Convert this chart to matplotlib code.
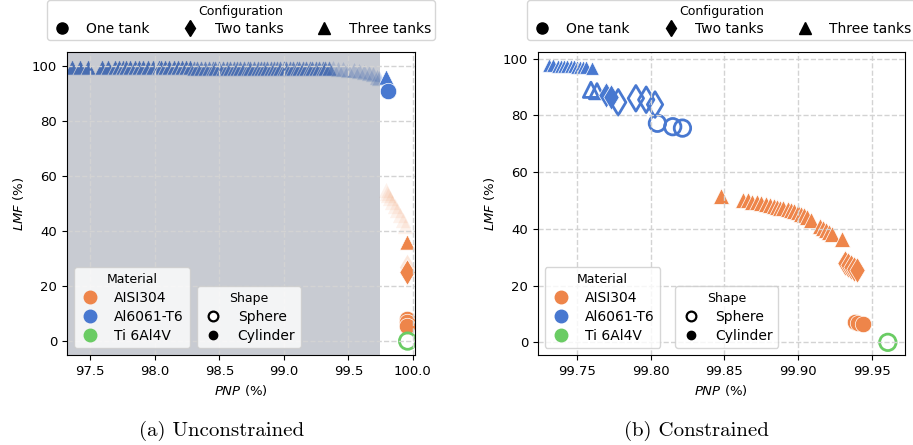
import numpy as np
import matplotlib
matplotlib.use('Agg')
import matplotlib.pyplot as plt
from matplotlib.lines import Line2D

# seaborn "muted" colours
C_STEEL = '#ee854a'   # AISI304
C_AL = '#4878d0'      # Al6061-T6
C_TI = '#6acc64'      # Ti 6Al4V

# ---------------- (a) unconstrained ----------------
# Al6061-T6, cylinder, three tanks (dense front along the top)
a_al_tri_x = [97.36, 97.42, 97.48, 97.59, 97.64, 97.69, 97.72, 97.75, 97.78, 97.81,
              97.85, 97.88, 97.91, 97.95, 97.99, 98.03, 98.05, 98.08, 98.11, 98.15,
              98.18, 98.21, 98.24, 98.27]
a_al_tri_y = [99.5] * len(a_al_tri_x)
a_al_tri2_x = [98.30, 98.33, 98.36, 98.39, 98.42, 98.45, 98.47, 98.50, 98.53, 98.56,
               98.58, 98.61, 98.64, 98.66, 98.69, 98.72, 98.74, 98.77, 98.80, 98.82,
               98.85, 98.87, 98.90, 98.92, 98.95, 98.97, 99.00, 99.02, 99.05, 99.07,
               99.10, 99.12, 99.15, 99.17, 99.20, 99.22, 99.25, 99.27, 99.30, 99.32, 99.35]
a_al_tri2_y = [99.4] * len(a_al_tri2_x)
a_al_fade_x = [99.38, 99.42, 99.46, 99.50, 99.54, 99.58, 99.62, 99.66, 99.69, 99.72, 99.74]
a_al_fade_y = [99.2, 99.0, 98.9, 98.7, 98.5, 98.3, 98.0, 97.6, 97.0, 96.2, 95.5]
a_al_other_x = [99.79]
a_al_other_y = [96.0]
a_al_cyl1_x = [99.806]
a_al_cyl1_y = [91.0]
# AISI304 faded front
a_st_fade_x = [99.79, 99.80, 99.81, 99.82, 99.84, 99.86, 99.88, 99.90, 99.92, 99.94]
a_st_fade_y = [55.0, 54.0, 53.0, 52.0, 50.5, 49.0, 47.5, 46.0, 44.0, 42.0]
a_st_tri_x = [99.955]
a_st_tri_y = [36.0]
a_st_dia_x = [99.953, 99.955]
a_st_dia_y = [27.0, 25.0]
a_st_cyl_x = [99.955, 99.956, 99.957]
a_st_cyl_y = [8.0, 7.0, 5.5]
a_ti_sph_x = [99.959]
a_ti_sph_y = [0.0]

# ---------------- (b) constrained ----------------
b_al_tri_x = [99.731, 99.734, 99.737, 99.739, 99.741, 99.743, 99.746, 99.748,
              99.750, 99.752, 99.754, 99.756, 99.760]
b_al_tri_y = [97.6, 97.6, 97.5, 97.5, 97.4, 97.4, 97.3, 97.3, 97.2, 97.1, 97.0, 97.0, 96.8]
b_al_tri_sph_x = [99.7595, 99.7636]
b_al_tri_sph_y = [89.0, 88.5]
b_al_dia_x = [99.770, 99.773]
b_al_dia_y = [87.3, 86.5]
b_al_dia_sph_x = [99.778, 99.790, 99.797, 99.803]
b_al_dia_sph_y = [84.6, 86.0, 85.5, 83.8]
b_al_one_sph_x = [99.8046, 99.815, 99.8216]
b_al_one_sph_y = [77.2, 76.0, 75.5]
b_st_tri_x = [99.848, 99.863, 99.866, 99.869, 99.872, 99.875, 99.878, 99.881, 99.884,
              99.886, 99.888, 99.890, 99.893, 99.895, 99.897, 99.900, 99.902, 99.904,
              99.906, 99.909, 99.915, 99.917, 99.919, 99.921, 99.923, 99.930]
b_st_tri_y = [51.7, 50.3, 50.0, 49.6, 49.3, 49.0, 48.6, 48.3, 48.0, 47.8, 47.5, 47.3,
              46.9, 46.6, 46.3, 45.8, 45.3, 44.8, 44.2, 43.2, 41.0, 40.3, 39.6, 39.0,
              38.3, 36.5]
b_st_dia_x = [99.932, 99.934, 99.936, 99.938, 99.940]
b_st_dia_y = [28.0, 27.2, 26.5, 26.0, 25.4]
b_st_cyl_x = [99.939, 99.941, 99.944]
b_st_cyl_y = [7.0, 6.8, 6.5]
b_ti_sph_x = [99.961]
b_ti_sph_y = [0.0]

plt.rcParams['font.size'] = 10
plt.rcParams['xtick.labelsize'] = 9.5
plt.rcParams['ytick.labelsize'] = 9.5

fig = plt.figure(figsize=(9.13, 4.45), dpi=100)
ax1 = fig.add_axes([0.0734, 0.202, 0.381, 0.681])
ax2 = fig.add_axes([0.589, 0.202, 0.402, 0.681])

S_TRI = 120
S_DIA = 170
S_CIRC = 140


def filled(ax, x, y, color, marker, s=S_TRI, alpha=1.0):
    ax.scatter(x, y, s=s, c=color, marker=marker, edgecolors='white',
               linewidths=0.5, alpha=alpha, zorder=1)


def hollow(ax, x, y, color, marker, s=S_CIRC, alpha=1.0):
    ax.scatter(x, y, s=s, facecolors='none', edgecolors=color, marker=marker,
               linewidths=2.0, alpha=alpha, zorder=1)


# (a)
filled(ax1, a_al_tri_x, a_al_tri_y, C_AL, '^')
filled(ax1, a_al_tri2_x, a_al_tri2_y, C_AL, '^', alpha=0.8)
filled(ax1, a_al_fade_x, a_al_fade_y, C_AL, '^', alpha=0.25)
filled(ax1, a_al_other_x, a_al_other_y, C_AL, '^')
filled(ax1, a_al_cyl1_x, a_al_cyl1_y, C_AL, 'o', s=S_CIRC)
filled(ax1, a_st_fade_x, a_st_fade_y, C_STEEL, '^', alpha=0.1)
filled(ax1, a_st_tri_x, a_st_tri_y, C_STEEL, '^')
filled(ax1, a_st_dia_x[:1], a_st_dia_y[:1], C_STEEL, 'd', s=S_DIA, alpha=0.2)
filled(ax1, a_st_dia_x[1:], a_st_dia_y[1:], C_STEEL, 'd', s=S_DIA)
filled(ax1, a_st_cyl_x, a_st_cyl_y, C_STEEL, 'o', s=S_CIRC)
hollow(ax1, a_ti_sph_x, a_ti_sph_y, C_TI, 'o')
ax1.axvspan(97.0, 99.745, color='#4b556b', alpha=0.3, lw=0, zorder=1.2)
ax1.set_xlim(97.32, 100.015)
ax1.set_ylim(-5.1, 105.1)
ax1.set_xticks([97.5, 98.0, 98.5, 99.0, 99.5, 100.0])
ax1.set_yticks([0, 20, 40, 60, 80, 100])

# (b)
filled(ax2, b_al_tri_x, b_al_tri_y, C_AL, '^', s=95)
hollow(ax2, b_al_tri_sph_x, b_al_tri_sph_y, C_AL, '^', s=120)
filled(ax2, b_al_dia_x, b_al_dia_y, C_AL, 'd', s=S_DIA)
hollow(ax2, b_al_dia_sph_x, b_al_dia_sph_y, C_AL, 'd', s=S_DIA)
hollow(ax2, b_al_one_sph_x, b_al_one_sph_y, C_AL, 'o')
filled(ax2, b_st_tri_x, b_st_tri_y, C_STEEL, '^', s=130)
filled(ax2, b_st_dia_x, b_st_dia_y, C_STEEL, 'd', s=S_DIA)
filled(ax2, b_st_cyl_x, b_st_cyl_y, C_STEEL, 'o', s=S_CIRC)
hollow(ax2, b_ti_sph_x, b_ti_sph_y, C_TI, 'o')
ax2.set_xlim(99.7234, 99.9725)
ax2.set_ylim(-4.5, 102.3)
ax2.set_xticks([99.75, 99.80, 99.85, 99.90, 99.95])
ax2.set_xticklabels(['99.75', '99.80', '99.85', '99.90', '99.95'])
ax2.set_yticks([0, 20, 40, 60, 80, 100])

conf_handles = [Line2D([], [], ls='', marker=m, color='black', markersize=ms)
                for m, ms in (('o', 8), ('d', 8), ('^', 8))]
conf_labels = ['One tank', 'Two tanks', 'Three tanks']
mat_handles = [Line2D([], [], ls='', marker='o', color=c, markersize=9)
               for c in (C_STEEL, C_AL, C_TI)]
mat_labels = ['AISI304', 'Al6061-T6', 'Ti 6Al4V']
shape_handles = [Line2D([], [], ls='', marker='o', markerfacecolor='white',
                        markeredgecolor='black', markeredgewidth=1.6, markersize=7),
                 Line2D([], [], ls='', marker='o', color='black', markersize=6)]
shape_labels = ['Sphere', 'Cylinder']

for ax in (ax1, ax2):
    ax.grid(True, ls='--', color='#d3d3d3', lw=1.0)
    ax.set_xlabel('$PNP$ (%)', fontsize=9.5)
    ax.set_ylabel('$LMF$ (%)', fontsize=9.5)
    leg_conf = ax.legend(conf_handles, conf_labels, title='Configuration', ncol=3,
                         loc='lower center', bbox_to_anchor=(0.5, 1.04),
                         handlelength=1.5, handletextpad=1.0, columnspacing=2.2,
                         fontsize=10, title_fontsize=9, borderaxespad=0,
                         borderpad=0.3, labelspacing=0.3)
    ax.add_artist(leg_conf)
    leg_mat = ax.legend(mat_handles, mat_labels, title='Material', loc='lower left',
                        handlelength=1.5, handletextpad=1.0, fontsize=10,
                        title_fontsize=9, labelspacing=0.35)
    ax.add_artist(leg_mat)
    ax.legend(shape_handles, shape_labels, title='Shape', loc='lower left',
              bbox_to_anchor=(0.355, 0.0), handlelength=1.5, handletextpad=1.0,
              fontsize=10, title_fontsize=9, labelspacing=0.35)

fig.text(0.243, 0.02, '(a) Unconstrained', ha='center', fontsize=15, family='cmr10')
fig.text(0.763, 0.02, '(b) Constrained', ha='center', fontsize=15, family='cmr10')

fig.savefig('out.png', dpi=100)
